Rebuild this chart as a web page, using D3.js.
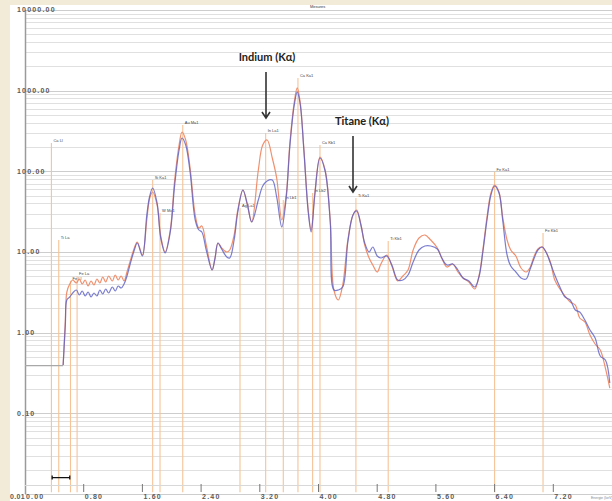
<!DOCTYPE html>
<meta charset="utf-8">
<style>
  body { margin: 0; background: #f1ebd7; }
  svg { display: block; }
  .grid line { stroke: #e0e0e0; stroke-width: 1px; }
  .grid line.major { stroke: #cdcdcd; }
  .ylab, .xlab { font: bold 7px "Liberation Sans", sans-serif; fill: #5a5a5a; letter-spacing: 1.2px; }
  .peak-line { stroke: #f6c397; stroke-width: 1.1px; }
  .peak-label { font: 4px "Liberation Sans", sans-serif; fill: #444; }
  .spec { fill: none; stroke-width: 1.2px; }
  .note { font: bold 11px Lato, sans-serif; fill: #222; }
  .arrow { stroke: #333; stroke-width: 1.6px; fill: none; }
</style>
<body>
<script src="https://d3js.org/d3.v7.min.js"></script>
<script>

  // energy (keV) of each sample point
  var energy = [0.52, 0.55, 0.57, 0.61, 0.65, 0.70, 0.74, 0.78, 0.82, 0.86, 0.90, 0.94, 0.98, 1.02, 1.06, 1.10,
    1.14, 1.19, 1.23, 1.27, 1.31, 1.35, 1.39, 1.43, 1.49, 1.53, 1.60, 1.66, 1.70, 1.74, 1.80, 1.85, 1.91, 1.98,
    2.04, 2.10, 2.14, 2.19, 2.25, 2.32, 2.37, 2.41, 2.47, 2.55, 2.59, 2.63, 2.68, 2.75, 2.79, 2.85, 2.90, 2.97,
    3.03, 3.09, 3.18, 3.24, 3.30, 3.37, 3.43, 3.50, 3.56, 3.61, 3.67, 3.71, 3.75, 3.80, 3.86, 3.90, 3.95, 4.02,
    4.09, 4.16, 4.21, 4.27, 4.33, 4.40, 4.47, 4.52, 4.58, 4.63, 4.69, 4.74, 4.80, 4.85, 4.93, 5.00, 5.08, 5.15,
    5.22, 5.29, 5.37, 5.45, 5.53, 5.62, 5.68, 5.75, 5.83, 5.90, 5.97, 6.05, 6.13, 6.19, 6.24, 6.30, 6.35, 6.40,
    6.46, 6.51, 6.57, 6.62, 6.69, 6.76, 6.83, 6.88, 6.94, 6.99, 7.05, 7.10, 7.16, 7.22, 7.29, 7.36, 7.43, 7.50,
    7.56, 7.63, 7.70, 7.77, 7.84, 7.91, 7.97];

  // counts, sample with indium (orange)
  var countsA = [0.397, 1.436, 3.192, 4.011, 4.496, 4.127, 4.627, 4.011, 4.496, 3.788, 4.370, 3.898, 4.627, 4.127, 4.898, 4.247,
    5.040, 4.370, 5.186, 4.496, 5.040, 4.370, 5.650, 7.516, 11.21, 13.30, 9.179, 24.93, 46.72, 55.45, 38.26, 15.78, 10.0, 18.74,
    78.11, 212.1, 307.5, 244.7, 110.0, 28.76, 19.84, 21.01, 12.21, 5.982, 8.425, 12.93, 11.21, 10.0, 10.59, 16.24, 33.17, 58.70,
    38.26, 23.55, 103.9, 212.1, 244.7, 146.4, 82.70, 24.93, 50.90, 224.6, 724.1, 1080, 724.1, 194.7, 33.17, 18.74, 53.89, 150.6,
    103.9, 24.93, 3.379, 2.540, 3.898, 14.08, 28.76, 33.17, 21.62, 12.21, 8.425, 6.900, 5.650, 7.099, 9.179, 6.705, 4.370, 5.040,
    5.982, 10.59, 14.91, 16.24, 14.08, 11.21, 8.425, 6.517, 7.099, 5.650, 4.760, 4.247, 3.477, 5.186, 10.59, 28.76, 53.89, 67.72,
    55.45, 27.16, 14.08, 10.59, 8.920, 6.333, 5.650, 6.333, 8.920, 10.89, 11.53, 10.0, 7.516, 4.496, 3.477, 2.847, 2.399, 2.202,
    1.520, 1.356, 0.935, 0.724, 0.610, 0.364, 0.206];

  // counts, reference sample (blue)
  var countsB = [0.397, 1.244, 2.540, 2.767, 3.102, 3.379, 2.930, 3.285, 2.847, 3.192, 2.767, 3.102, 2.847, 3.379, 3.014, 3.477,
    3.102, 3.682, 3.285, 3.788, 3.578, 4.011, 5.040, 6.900, 10.59, 12.93, 8.920, 28.76, 49.47, 62.15, 40.51, 14.91, 9.718, 17.70,
    67.72, 183.9, 259.0, 212.1, 98.16, 24.93, 18.74, 17.70, 10.59, 5.982, 8.425, 12.93, 10.89, 8.669, 8.425, 14.08, 31.33, 58.70,
    39.37, 23.55, 44.13, 65.81, 75.92, 78.11, 48.07, 20.42, 46.72, 206.1, 664.7, 963.4, 683.9, 183.9, 31.33, 17.70, 50.90, 146.4,
    101.0, 23.55, 3.379, 3.379, 3.682, 13.30, 28.76, 32.24, 21.01, 12.93, 10.0, 11.53, 8.920, 8.425, 8.920, 6.900, 4.496, 4.496,
    5.186, 7.516, 10.59, 11.87, 11.87, 10.89, 8.425, 6.900, 7.099, 5.982, 4.760, 4.370, 3.682, 5.040, 10.0, 26.40, 50.90, 65.81,
    53.89, 24.93, 9.179, 6.705, 5.650, 4.760, 4.627, 5.982, 8.425, 10.59, 11.53, 10.0, 7.305, 5.186, 3.682, 2.767, 2.540, 1.909,
    1.803, 1.436, 1.079, 0.859, 0.514, 0.458, 0.238];

  // identified lines: energy, marker height, label
  var lineEnergy = [0.36, 0.46, 0.62, 0.71, 1.74, 1.84, 2.15, 2.93, 3.28, 3.52, 3.72, 3.92, 4.02, 4.51, 4.95, 6.40, 7.06];
  var lineHeight = [225, 14.1, 4.4, 5.0, 78, 30.4, 375, 35.1, 299, 44.1, 1436, 53.9, 212, 46.7, 13.7, 98, 17.2];
  var lineLabel = ["Ca Ll", "Ti La", "Fe Ll", "Fe La", "Si Ka1", "W Ma1", "Au Ma1", "Ag La1", "In La1", "In Lb1",
    "Ca Ka1", "In Lb2", "Ca Kb1", "Ti Ka1", "Ti Kb1", "Fe Ka1", "Fe Kb1"];

  var xTicks = [0, 0.8, 1.6, 2.4, 3.2, 4.0, 4.8, 5.6, 6.4, 7.2];
  var yTicks = [0.01, 0.1, 1, 10, 100, 1000, 10000];
  var floorLevel = 0.39;   // flat level before the detector threshold
  var roi = [0.37, 0.61, 0.016];

  var width = 612, height = 501;

  var svg = d3.select("body").append("svg")
    .attr("width", width)
    .attr("height", height);

  // white plotting paper
  svg.append("rect")
    .attr("x", 10).attr("y", 5)
    .attr("width", width - 10).attr("height", height - 5)
    .attr("fill", "#fff");

  var x = d3.scaleLinear().domain([0, 8]).range([25, 612]);
  var y = d3.scaleLog().domain([0.01, 10000]).range([494, 10]);

  // horizontal grid, every minor log step
  var gridVals = [];
  yTicks.forEach(function (d) {
    for (var k = 1; k < 10; k++) {
      if (d * k <= 10000) gridVals.push(d * k);
    }
  });
  svg.append("g").attr("class", "grid")
    .selectAll("line")
    .data(gridVals)
    .enter().append("line")
    .attr("class", function (d) { return yTicks.indexOf(d) >= 0 ? "major" : null; })
    .attr("x1", 25).attr("x2", width)
    .attr("y1", function (d) { return Math.round(y(d)) + 0.5; })
    .attr("y2", function (d) { return Math.round(y(d)) + 0.5; });

  // marker lines for identified peaks
  svg.append("g")
    .selectAll("line")
    .data(lineEnergy)
    .enter().append("line")
    .attr("class", "peak-line")
    .attr("x1", function (d) { return x(d); })
    .attr("x2", function (d) { return x(d); })
    .attr("y1", y(0.0105))
    .attr("y2", function (d, i) { return y(lineHeight[i]); });

  svg.append("g")
    .selectAll("text")
    .data(lineEnergy)
    .enter().append("text")
    .attr("class", "peak-label")
    .attr("x", function (d) { return x(d) + 2; })
    .attr("y", function (d, i) { return y(lineHeight[i]) - 1; })
    .text(function (d, i) { return lineLabel[i]; });

  // y axis
  svg.append("line")
    .attr("x1", 25.5).attr("x2", 25.5)
    .attr("y1", y(10000)).attr("y2", y(0.01))
    .attr("stroke", "#9a9a9a").attr("stroke-width", 1.5);

  svg.append("g")
    .selectAll("text")
    .data(yTicks)
    .enter().append("text")
    .attr("class", "ylab")
    .attr("x", function (d) { return d === 0.01 ? 10 : 17; })
    .attr("y", function (d) { return d === 0.01 ? 497 : y(d); })
    .attr("dy", "0.35em")
    .style("letter-spacing", function (d) { return d === 0.01 ? "0.3px" : null; })
    .text(d3.format(".2f"));

  // x axis ticks and labels
  svg.append("line")
    .attr("x1", 25).attr("x2", width)
    .attr("y1", 485.5).attr("y2", 485.5)
    .attr("stroke", "#d8d8d8");

  svg.append("g")
    .selectAll("line")
    .data(xTicks.slice(1))
    .enter().append("line")
    .attr("x1", function (d) { return x(d); })
    .attr("x2", function (d) { return x(d); })
    .attr("y1", 484).attr("y2", 492)
    .attr("stroke", "#777");

  svg.append("g")
    .selectAll("text")
    .data(xTicks)
    .enter().append("text")
    .attr("class", "xlab")
    .attr("x", function (d) { return d === 0 ? x(d) + 1 : x(d) + 1; })
    .attr("y", 497)
    .attr("dy", "0.35em")
    .text(d3.format(".2f"));

  // flat level + ROI marker
  svg.append("line")
    .attr("x1", x(0)).attr("x2", x(energy[0]))
    .attr("y1", y(floorLevel)).attr("y2", y(floorLevel))
    .attr("stroke", "#a8a8a8").attr("stroke-width", 1.2);

  svg.append("path")
    .attr("d", "M" + x(roi[0]) + "," + (y(roi[2]) - 2) + "v4M" + x(roi[0]) + "," + y(roi[2])
      + "H" + x(roi[1]) + "M" + x(roi[1]) + "," + (y(roi[2]) - 2) + "v4")
    .attr("stroke", "#111").attr("stroke-width", 1.3).attr("fill", "none");

  // spectra
  var line = d3.line()
    .x(function (d, i) { return x(energy[i]); })
    .y(function (d) { return y(d); })
    .curve(d3.curveCatmullRom.alpha(0.5));

  svg.append("path")
    .attr("class", "spec")
    .attr("d", line(countsA))
    .attr("stroke", "#ee8a66")
    .attr("stroke-opacity", 0.95);

  svg.append("path")
    .attr("class", "spec")
    .attr("d", line(countsB))
    .attr("stroke", "#5a5ec4")
    .attr("stroke-opacity", 0.8);

  // annotations
  var notes = [
    { text: "Indium (K\u03b1)", tx: 267, ty: 57, ax: 266, a1: 72, a2: 118 },
    { text: "Titane (K\u03b1)", tx: 362, ty: 121, ax: 353, a1: 136, a2: 192 }
  ];

  var note = svg.append("g")
    .selectAll("g")
    .data(notes)
    .enter().append("g");

  note.append("text")
    .attr("class", "note")
    .attr("x", function (d) { return d.tx; })
    .attr("y", function (d) { return d.ty; })
    .attr("dy", "0.35em")
    .attr("text-anchor", "middle")
    .text(function (d) { return d.text; });

  note.append("path")
    .attr("class", "arrow")
    .attr("d", function (d) {
      return "M" + d.ax + "," + d.a1 + "V" + d.a2
        + "M" + (d.ax - 4) + "," + (d.a2 - 6) + "L" + d.ax + "," + d.a2 + "L" + (d.ax + 4) + "," + (d.a2 - 6);
    });

  // small captions
  svg.append("text")
    .attr("x", 310).attr("y", 8)
    .style("font", "4px sans-serif").attr("fill", "#333")
    .text("Mesures");

  svg.append("text")
    .attr("x", 591).attr("y", 499)
    .style("font", "3.5px sans-serif").attr("fill", "#888")
    .text("Energie (keV)");

</script>
</body>
